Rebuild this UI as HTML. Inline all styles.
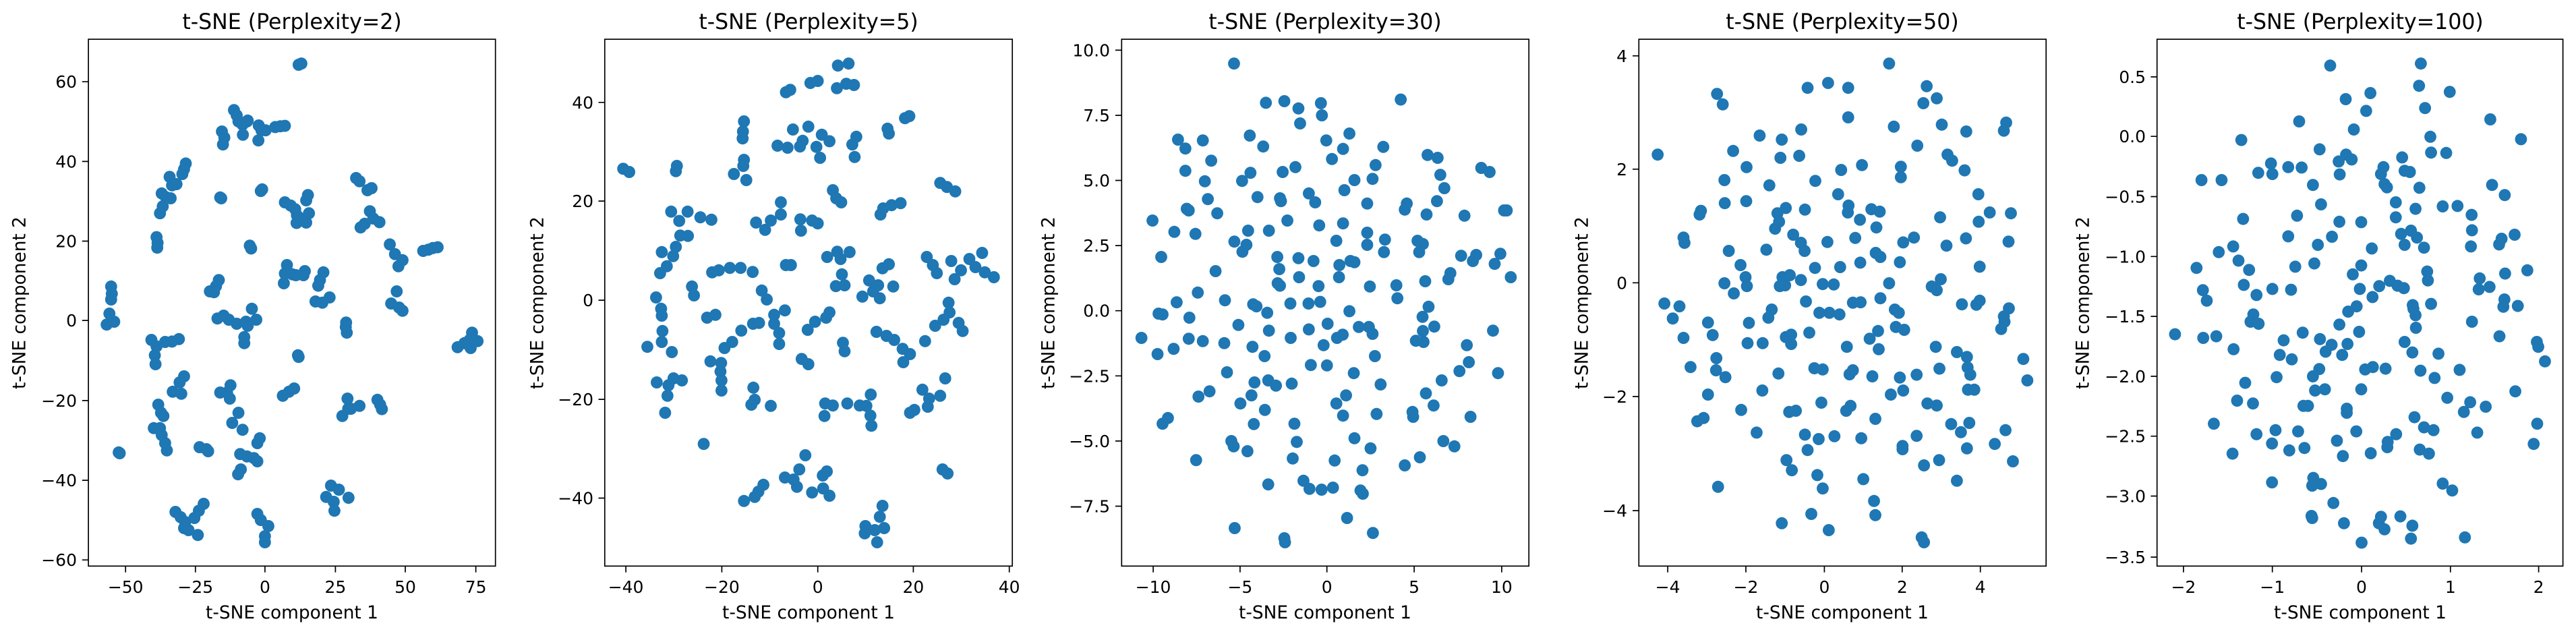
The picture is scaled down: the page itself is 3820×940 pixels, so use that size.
<!DOCTYPE html>
<html><head><meta charset="utf-8"><style>
html,body{margin:0;padding:0;background:#fff}
svg{display:block}
text{font-family:"DejaVu Sans","Liberation Sans",sans-serif;fill:#000}
.tk{font-size:25px}
.lb{font-size:26.4px}
.tt{font-size:31.6px}
</style></head><body>
<svg id="s" width="3820" height="940" xmlns="http://www.w3.org/2000/svg">
<rect width="3820" height="940" fill="#fff"/>
<g id="p1" transform="translate(0,0) scale(0.5102,0.6)"></g>
<g id="p2" transform="translate(760,0) scale(0.49744,0.6)"></g>
<g id="p3" transform="translate(1530,0) scale(0.49744,0.6)"></g>
<g id="p4" transform="translate(2300,0) scale(0.49744,0.6)"></g>
<g id="p5" transform="translate(3000,0) scale(0.52296,0.6)"></g>
<g fill="none" stroke="#000" stroke-width="1.7">
<rect x="131.1" y="58.2" width="603.6" height="781.1"/>
<rect x="896.8" y="58.2" width="604.4" height="781.1"/>
<rect x="1663.3" y="58.2" width="603.9" height="781.1"/>
<rect x="2430.3" y="58.2" width="603.9" height="781.1"/>
<rect x="3198.7" y="58.2" width="601.9" height="781.1"/>
<path id="ticks" d=""/>
</g>
<!-- titles -->
<text class="tt" x="433" y="43" text-anchor="middle">t-SNE (Perplexity=2)</text>
<text class="tt" x="1199" y="43" text-anchor="middle">t-SNE (Perplexity=5)</text>
<text class="tt" x="1965" y="43" text-anchor="middle">t-SNE (Perplexity=30)</text>
<text class="tt" x="2732" y="43" text-anchor="middle">t-SNE (Perplexity=50)</text>
<text class="tt" x="3500" y="43" text-anchor="middle">t-SNE (Perplexity=100)</text>
<!-- xlabels -->
<text class="lb" x="433" y="917" text-anchor="middle">t-SNE component 1</text>
<text class="lb" x="1199" y="917" text-anchor="middle">t-SNE component 1</text>
<text class="lb" x="1965" y="917" text-anchor="middle">t-SNE component 1</text>
<text class="lb" x="2732" y="917" text-anchor="middle">t-SNE component 1</text>
<text class="lb" x="3500" y="917" text-anchor="middle">t-SNE component 1</text>
<!-- ylabels -->
<text class="lb" transform="translate(29,449) rotate(-90)" text-anchor="middle" dominant-baseline="central">t-SNE component 2</text>
<text class="lb" transform="translate(797,449) rotate(-90)" text-anchor="middle" dominant-baseline="central">t-SNE component 2</text>
<text class="lb" transform="translate(1555,449) rotate(-90)" text-anchor="middle" dominant-baseline="central">t-SNE component 2</text>
<text class="lb" transform="translate(2346,449) rotate(-90)" text-anchor="middle" dominant-baseline="central">t-SNE component 2</text>
<text class="lb" transform="translate(3089,449) rotate(-90)" text-anchor="middle" dominant-baseline="central">t-SNE component 2</text>
<!-- x tick labels -->
<g class="tk" text-anchor="middle">
<text x="186.2" y="879">−50</text><text x="289.8" y="879">−25</text><text x="392.9" y="879">0</text><text x="497.4" y="879">25</text><text x="601" y="879">50</text><text x="705.6" y="879">75</text>
<text x="928.1" y="879">−40</text><text x="1070.4" y="879">−20</text><text x="1212.7" y="879">0</text><text x="1354.4" y="879">20</text><text x="1496.7" y="879">40</text>
<text x="1710.1" y="879">−10</text><text x="1838.9" y="879">−5</text><text x="1967.7" y="879">0</text><text x="2097.1" y="879">5</text><text x="2226.9" y="879">10</text>
<text x="2473.1" y="879">−4</text><text x="2589" y="879">−2</text><text x="2705.4" y="879">0</text><text x="2820.8" y="879">2</text><text x="2936.7" y="879">4</text>
<text x="3237.9" y="879">−2</text><text x="3369.7" y="879">−1</text><text x="3502" y="879">0</text><text x="3633.8" y="879">1</text><text x="3764.6" y="879">2</text>
</g>
<!-- y tick labels -->
<g class="tk" text-anchor="end">
<text x="114" y="130.2">60</text><text x="114" y="248.4">40</text><text x="114" y="366.5">20</text><text x="114" y="484.1">0</text><text x="114" y="602.9">−20</text><text x="114" y="721.1">−40</text><text x="114" y="839.2">−60</text>
<text x="880" y="160.8">40</text><text x="880" y="307.1">20</text><text x="880" y="454.1">0</text><text x="880" y="601.1">−20</text><text x="880" y="747.5">−40</text>
<text x="1646" y="83.4">10.0</text><text x="1646" y="180">7.5</text><text x="1646" y="276.5">5.0</text><text x="1646" y="373.1">2.5</text><text x="1646" y="469.7">0.0</text><text x="1646" y="566.3">−2.5</text><text x="1646" y="662.9">−5.0</text><text x="1646" y="759.5">−7.5</text>
<text x="2413" y="91.8">4</text><text x="2413" y="259.8">2</text><text x="2413" y="428.3">0</text><text x="2413" y="596.9">−2</text><text x="2413" y="766.1">−4</text>
<text x="3182" y="123">0.5</text><text x="3182" y="211.2">0.0</text><text x="3182" y="300.5">−0.5</text><text x="3182" y="389.3">−1.0</text><text x="3182" y="478.1">−1.5</text><text x="3182" y="566.9">−2.0</text><text x="3182" y="655.7">−2.5</text><text x="3182" y="744.5">−3.0</text><text x="3182" y="835">−3.5</text>
</g>
</svg>
<script>
var P={
p1:[868,160,876,157,680,272,688,285,693,300,705,308,718,300,706,333,720,298,645,325,652,340,648,357,752,310,760,322,772,322,751,347,800,314,815,312,828,311,540,404,535,418,530,430,493,437,505,455,500,458,513,455,470,478,482,487,496,490,473,510,465,527,640,488,643,490,758,472,762,468,828,500,845,508,858,517,863,532,862,551,875,540,890,550,898,527,895,482,890,495,1035,440,1045,448,1068,470,1080,465,1048,562,1060,553,1075,522,1085,540,1103,549,1133,604,1148,628,1158,658,1170,643,1230,620,1245,617,1258,613,1272,611,455,586,458,600,457,612,726,607,730,614,636,692,628,707,610,720,622,722,834,655,828,676,825,700,860,680,882,680,886,670,850,678,940,673,930,692,925,706,917,745,937,748,958,735,1153,720,1137,750,1160,760,1170,768,323,708,325,726,323,740,318,775,310,802,332,795,632,787,650,780,665,790,688,800,715,795,732,763,745,790,710,833,710,848,720,805,1006,797,1008,822,1005,808,1330,858,1372,822,1368,860,1388,843,1350,848,1365,840,440,840,455,856,450,878,452,900,480,845,500,844,520,838,866,878,868,882,535,930,522,945,502,968,527,973,670,952,660,970,640,970,668,985,822,978,840,968,855,960,460,1000,468,1020,475,1028,447,1058,465,1058,470,1075,480,1095,485,1113,693,1020,675,1045,705,1062,1010,985,1012,1010,995,1028,1045,1003,1020,1010,1097,988,1105,1000,1110,1011,348,1120,345,1118,580,1105,600,1110,605,1115,755,1083,748,1095,698,1122,718,1128,738,1132,748,1140,700,1160,692,1172,962,1200,948,1228,985,1210,970,1240,972,1262,1013,1230,510,1265,525,1278,538,1290,535,1305,565,1280,578,1262,592,1245,548,1310,575,1322,748,1270,758,1285,780,1300,770,1325,770,1340],
p2:[330,417,348,425,490,410,487,423,690,300,687,325,686,342,690,395,688,410,660,430,697,445,815,228,828,222,888,205,910,200,970,162,1002,157,967,218,995,207,1018,210,1170,292,1183,287,1118,318,1122,330,836,320,882,313,865,348,857,362,790,360,820,365,922,333,945,349,906,363,917,390,1013,357,1025,338,1020,388,473,523,497,546,522,523,500,582,523,583,560,537,593,543,726,550,770,545,753,568,800,530,800,500,858,542,860,570,893,545,910,552,955,470,965,490,980,500,1275,452,1295,462,1320,473,1097,530,1105,515,1130,507,1157,502,445,623,487,610,479,633,460,658,440,675,595,673,615,668,648,662,680,662,716,672,535,708,541,730,428,735,443,763,445,780,447,818,445,845,402,857,475,870,743,718,758,740,938,635,968,622,978,640,1005,623,982,678,964,707,990,705,815,655,830,655,1235,635,1253,655,1265,675,1308,645,1318,690,1337,668,1362,640,1380,660,1400,625,1408,673,1435,685,1103,663,1122,653,1043,733,1063,693,1090,705,1095,737,1135,708,1075,720,1300,748,1303,772,1285,790,1260,805,1330,798,1342,818,580,785,605,778,682,817,717,800,735,798,780,778,812,767,780,800,795,823,795,850,902,795,880,815,935,785,945,772,985,847,990,868,1085,820,1115,830,1138,840,1163,862,1185,875,1165,895,1230,843,632,860,655,845,590,893,622,897,620,918,623,940,623,965,862,887,882,900,430,945,465,952,480,935,505,940,462,978,455,1020,718,958,722,988,712,1000,770,1003,932,997,955,1002,930,1028,998,997,1068,975,1035,1002,1055,1003,1067,1027,1070,1052,1222,963,1242,985,1238,1005,1275,978,1290,935,1185,1020,1198,1013,570,1097,873,1125,855,1160,812,1180,838,1185,848,1203,925,1175,937,1165,926,1207,945,1225,893,1217,690,1238,722,1228,733,1215,748,1198,1282,1160,1297,1170,1103,1250,1095,1277,1052,1300,1050,1318,1080,1310,1108,1305,1087,1340],
p3:[603,157,698,254,753,250,795,268,800,305,862,255,865,285,1100,246,436,345,458,367,510,347,535,397,650,335,690,362,878,347,947,330,928,368,1048,363,458,422,516,448,627,447,652,427,748,425,786,413,895,393,962,445,1016,442,1025,408,1180,383,1210,390,1218,432,1230,465,1340,415,1365,425,360,545,462,516,468,520,525,492,553,527,673,487,740,490,743,497,762,545,826,478,845,500,932,470,1000,503,1112,518,1118,503,1177,530,1208,497,1290,533,1408,520,1416,520,425,573,488,578,645,570,707,570,857,557,928,552,908,595,1000,575,1000,605,1053,592,1050,623,1150,595,1155,623,1166,603,1280,632,1315,645,1325,630,1397,627,1380,652,1428,685,386,635,548,670,604,597,628,622,640,605,732,635,738,665,733,700,740,706,795,638,797,685,840,645,855,707,917,655,916,685,950,645,962,648,1008,708,1087,705,1090,737,1173,695,1248,675,1242,690,432,747,495,723,378,775,390,777,470,785,576,742,660,752,670,757,702,773,771,750,825,750,860,746,947,769,1183,758,1165,783,1200,807,1166,818,1375,817,327,835,375,875,423,862,468,837,510,843,574,848,616,803,658,857,707,817,694,880,772,835,826,814,870,853,882,800,910,835,927,827,975,808,1005,808,1016,825,1023,880,1145,842,1168,845,1297,853,1303,895,582,920,664,945,705,940,728,953,775,948,832,902,880,903,960,922,1040,950,1275,917,1390,922,1222,940,497,980,530,967,655,977,622,997,695,1013,908,997,937,977,928,1027,1028,1023,1135,1018,1137,1030,1175,972,1198,1002,1308,1030,390,1047,406,1033,662,1048,783,1047,595,1090,602,1103,643,1115,790,1092,962,1083,1010,1108,1227,1090,1260,1103,490,1137,778,1133,903,1138,986,1162,1112,1150,1157,1130,705,1197,810,1188,828,1208,864,1210,898,1205,980,1212,987,1220,605,1305,753,1330,755,1340,940,1280,1017,1317],
p4:[318,382,495,232,512,258,622,335,688,345,684,390,740,385,746,320,765,217,826,205,886,217,886,290,1008,157,1022,313,1120,213,1110,255,1150,243,1165,308,1238,325,1350,323,1357,303,543,373,583,413,517,445,518,502,582,497,651,458,788,447,865,420,927,408,1043,412,1043,438,1092,360,1182,382,1196,397,1233,421,1274,480,447,521,443,530,395,587,398,600,530,620,565,655,580,685,584,707,517,700,545,725,642,617,668,565,675,527,680,548,700,514,722,580,745,600,757,518,756,620,787,662,810,702,843,703,824,598,856,480,887,508,885,525,907,588,921,543,922,649,862,660,970,562,955,517,980,523,968,625,982,635,1008,700,1040,648,1050,599,1082,587,1160,537,1179,607,1237,589,1275,548,1308,525,1371,527,1364,597,1278,659,690,685,712,680,682,707,698,705,745,692,760,745,800,773,830,773,860,777,900,748,923,747,982,737,1025,765,1037,773,1028,808,1053,815,1135,708,1150,717,1162,690,1225,752,1268,753,1278,743,1350,782,1342,813,1365,762,1352,795,338,750,383,757,363,787,395,835,468,797,482,828,590,798,586,848,631,848,658,765,648,785,700,833,716,827,716,850,770,822,882,857,950,837,975,818,977,863,1147,857,1210,870,1240,882,1242,908,1250,926,1158,911,1408,887,1420,940,416,907,493,885,492,915,520,932,678,923,785,910,810,913,890,925,900,915,958,930,1040,933,1090,926,1013,975,1050,965,1243,963,1262,963,630,965,468,975,567,1013,436,1041,455,1033,613,1069,710,1018,730,1015,806,995,880,1015,893,1003,967,1035,1122,997,1150,1002,1193,1048,1222,1068,1247,1045,1355,1063,757,1074,765,1112,798,1085,845,1078,925,1083,1048,1102,1048,1110,1090,1077,1240,1108,1323,1097,1377,1140,702,1137,718,1162,1112,1150,1157,1137,794,1174,810,1207,931,1184,498,1203,1210,1188,963,1238,967,1273,776,1270,688,1293,828,1310,1105,1328,1112,1340],
p5:[871,162,1128,157,915,245,985,230,973,274,1123,212,1140,267,1210,227,1325,295,783,300,938,320,619,346,1155,338,1412,344,841,369,916,382,932,394,895,399,1075,389,1157,377,1200,378,506,445,563,445,667,427,703,404,707,430,752,413,790,414,898,431,1022,413,1015,430,1025,455,1032,463,1082,422,1097,425,1124,464,822,457,1330,457,1366,482,845,505,624,541,777,533,897,548,959,549,1057,500,1057,537,1113,516,1190,510,1232,509,1272,531,1273,569,596,609,555,623,752,584,836,605,876,585,989,614,1072,578,1100,570,1117,587,1082,605,1137,612,1270,609,1350,604,1357,590,1394,580,492,662,611,644,641,667,772,659,826,651,959,656,935,678,1146,671,1148,693,1295,688,1292,715,1323,709,1367,676,1430,668,510,717,521,743,626,704,662,729,707,714,760,716,955,714,991,734,1010,707,1040,694,1062,706,1080,712,1105,754,1107,763,1157,751,1365,740,1362,758,1403,756,653,777,645,795,668,800,946,757,922,770,897,802,953,820,793,822,1113,779,1114,810,1273,795,1351,831,431,826,511,835,548,831,597,863,739,841,842,838,875,852,858,869,920,850,905,877,728,877,762,888,1082,845,1104,871,1178,874,1457,845,1461,857,1480,893,719,932,822,930,840,912,828,965,856,962,959,962,970,913,992,907,1028,911,1127,916,1167,934,1238,914,630,946,607,990,652,997,541,1047,662,1073,716,1063,780,1066,795,1003,808,1003,918,1010,918,1020,1110,1031,1137,1056,1164,1063,1203,983,1250,1018,1268,994,1312,1005,1396,967,1458,1047,1448,1097,1288,1069,594,1121,706,1096,755,1113,798,1107,890,1089,907,1127,945,1066,986,1120,1034,1092,1033,1105,1058,1073,1125,1111,1151,1121,706,1192,823,1181,845,1196,820,1200,880,1243,1190,1195,1217,1212,818,1275,820,1280,910,1293,1015,1277,1009,1293,1025,1308,1070,1276,1104,1299,1100,1331,960,1341,1253,1328]
};
var NS="http://www.w3.org/2000/svg";
var rx={p1:17.5,p2:17.9,p3:17.9,p4:17.9,p5:17};
for(var k in P){var g=document.getElementById(k),a=P[k];
for(var i=0;i<a.length;i+=2){var e=document.createElementNS(NS,"ellipse");
e.setAttribute("cx",a[i]);e.setAttribute("cy",a[i+1]);e.setAttribute("rx",rx[k]);e.setAttribute("ry",15);e.setAttribute("fill","#1f77b4");g.appendChild(e);}}
var d="",xb=839.3,X={
a:[131.1,[186.2,289.8,392.9,497.4,601,705.6],[121.2,239.4,357.5,475.1,593.9,712.1,830.2]],
b:[896.8,[928.1,1070.4,1212.7,1354.4,1496.7],[151.8,298.1,445.1,592.1,738.5]],
c:[1663.3,[1710.1,1838.9,1967.7,2097.1,2226.9],[74.4,171,267.5,364.1,460.7,557.3,653.9,750.5]],
d:[2430.3,[2473.1,2589,2705.4,2820.8,2936.7],[82.8,250.8,419.3,587.9,757.1]],
e:[3198.7,[3237.9,3369.7,3502,3633.8,3764.6],[114,202.2,291.5,380.3,469.1,557.9,646.7,735.5,826]]};
for(var k in X){var t=X[k];t[1].forEach(function(x){d+="M"+x+" "+xb+"v9.3";});
t[2].forEach(function(y){d+="M"+t[0]+" "+y+"h-9.3";});}
document.getElementById("ticks").setAttribute("d",d);
</script>
</body></html>
